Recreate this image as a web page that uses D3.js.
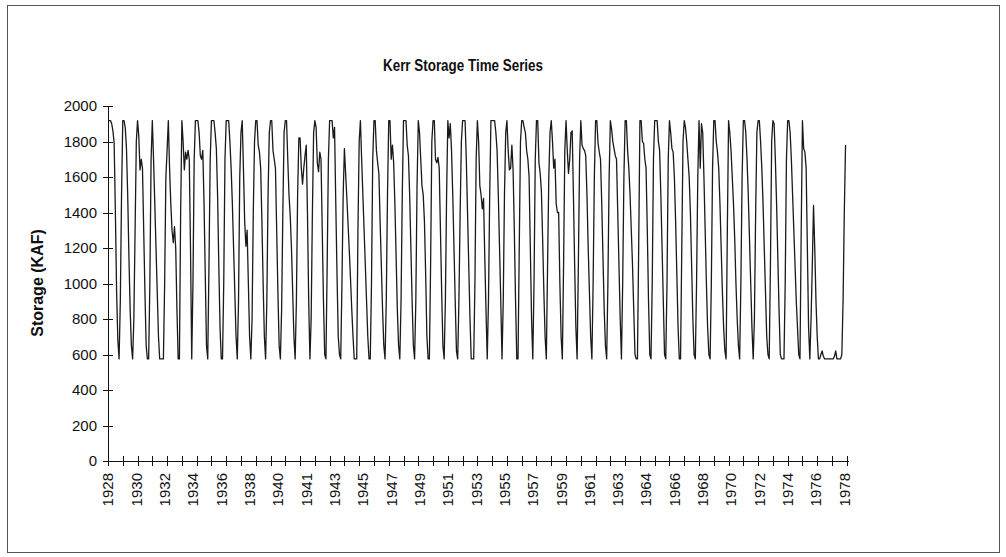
<!DOCTYPE html>
<html>
<head>
<meta charset="utf-8">
<title>Kerr Storage Time Series</title>
<style>
body { margin: 0; background: #fff; }
text { font-family: "Liberation Sans", Arial, sans-serif; fill: #111; }
.axis path, .axis line { stroke: #111; shape-rendering: crispEdges; }
</style>
</head>
<body>
<svg width="1006" height="557"></svg>
<script src="https://d3js.org/d3.v7.min.js"></script>
<script>
// monthly storage (KAF), one row per water year starting July
var storage = [
  1918,1918,1918,1900,1860,1790,1400,950,680,575,900,1500,     // 1928
  1918,1918,1880,1760,1500,1150,850,650,575,800,1300,1800,     // 1929
  1918,1830,1640,1700,1650,1300,950,650,575,575,1000,1700,     // 1930
  1918,1700,1450,1200,950,700,575,575,575,575,1000,1600,       // 1931
  1750,1918,1650,1450,1300,1230,1320,1200,850,575,575,1400,    // 1932
  1918,1800,1640,1740,1700,1750,1700,1200,575,1000,1700,1918,  // 1933
  1918,1918,1850,1720,1700,1750,1450,1050,650,575,1100,1700,   // 1934
  1918,1918,1918,1850,1760,1500,1100,750,575,575,1000,1700,    // 1935
  1918,1918,1918,1800,1650,1450,1200,950,700,575,900,1600,     // 1936
  1850,1918,1650,1350,1210,1300,1000,700,575,800,1400,1800,    // 1937
  1918,1918,1780,1740,1650,1350,1000,700,575,900,1500,1850,    // 1938
  1918,1918,1750,1700,1650,1300,950,650,575,850,1400,1850,     // 1939
  1918,1918,1700,1500,1380,1200,950,700,575,900,1500,1820,     // 1940
  1820,1650,1560,1650,1720,1780,1400,900,575,800,1400,1850,    // 1941
  1918,1880,1680,1630,1740,1700,1300,900,600,575,1100,1700,    // 1942
  1918,1918,1918,1820,1880,1450,1050,700,600,575,1000,1500,    // 1943
  1760,1620,1480,1330,1180,1020,850,700,575,575,575,1300,      // 1944
  1800,1918,1700,1500,1300,1100,900,700,575,575,1000,1700,     // 1945
  1918,1918,1750,1680,1620,1350,1100,850,650,575,900,1500,     // 1946
  1918,1918,1700,1780,1680,1450,1150,850,650,575,900,1500,     // 1947
  1918,1918,1918,1780,1720,1500,1200,900,650,575,900,1550,     // 1948
  1918,1850,1700,1550,1500,1350,1050,700,575,575,1100,1800,    // 1949
  1918,1918,1700,1680,1710,1650,1300,950,650,575,900,1500,     // 1950
  1918,1820,1900,1750,1500,1200,900,620,575,900,1400,1800,     // 1951
  1918,1918,1918,1700,1400,1100,800,575,575,575,1000,1700,     // 1952
  1918,1800,1550,1500,1420,1480,1150,850,575,900,1500,1918,    // 1953
  1918,1918,1918,1850,1750,1500,1200,900,575,900,1500,1850,    // 1954
  1918,1750,1640,1650,1780,1640,1300,900,575,575,1200,1800,    // 1955
  1918,1918,1880,1850,1750,1700,1600,1200,800,575,1000,1700,   // 1956
  1918,1918,1680,1620,1520,1250,950,700,575,1100,1600,1850,    // 1957
  1918,1800,1650,1700,1450,1400,1400,1000,700,575,1100,1750,   // 1958
  1918,1750,1620,1700,1850,1860,1500,1100,750,575,1100,1700,   // 1959
  1918,1780,1760,1750,1720,1500,1200,950,700,575,1000,1600,    // 1960
  1918,1918,1790,1740,1700,1450,1150,850,650,575,1000,1600,    // 1961
  1918,1870,1800,1760,1720,1700,1400,1100,800,575,1000,1600,   // 1962
  1918,1918,1750,1650,1500,1300,1100,850,600,575,575,1200,     // 1963
  1918,1918,1800,1790,1700,1650,1300,900,600,575,1000,1700,    // 1964
  1918,1918,1918,1800,1750,1500,1200,900,600,575,1000,1700,    // 1965
  1918,1850,1760,1740,1600,1350,1050,750,575,575,1200,1800,    // 1966
  1918,1880,1800,1700,1600,1400,1100,800,600,575,1000,1600,    // 1967
  1918,1650,1900,1850,1600,1300,1000,750,600,575,1000,1650,    // 1968
  1918,1918,1800,1740,1650,1450,1200,950,750,620,575,1300,     // 1969
  1918,1850,1750,1600,1450,1250,1000,800,650,575,1000,1600,    // 1970
  1918,1918,1850,1700,1500,1250,1000,750,575,800,1400,1850,    // 1971
  1918,1918,1800,1650,1450,1200,950,700,600,575,1100,1800,     // 1972
  1918,1900,1700,1450,1150,850,600,575,575,575,1000,1700,      // 1973
  1918,1918,1850,1700,1500,1300,1100,900,750,600,575,1300,     // 1974
  1918,1760,1740,1650,1200,750,575,800,1100,1440,1200,900,     // 1975
  700,575,575,600,620,590,575,575,575,575,575,575,             // 1976
  575,575,590,620,575,575,575,575,600,900,1400,1780            // 1977
];

var xLabels = ["1928","1930","1932","1934","1936","1938","1940","1941","1943",
  "1945","1947","1949","1951","1953","1955","1957","1959","1961","1963",
  "1964","1966","1968","1970","1972","1974","1976","1978"];
var labelEvery = 23;   // months between category labels
var tickEvery = 12;    // months between tick marks
var yTicks = [0,200,400,600,800,1000,1200,1400,1600,1800,2000];

var svg = d3.select("svg");

svg.append("rect")
  .attr("x", 7.5).attr("y", 5.5)
  .attr("width", 992).attr("height", 547)
  .attr("fill", "#fff")
  .attr("stroke", "#555");

var x = d3.scaleLinear()
  .domain([0, 601])
  .range([108, 848]);

var y = d3.scaleLinear()
  .domain([0, 2000])
  .range([461, 106]);

svg.append("text")
  .attr("x", 463).attr("y", 71)
  .attr("text-anchor", "middle")
  .attr("textLength", 160)
  .attr("lengthAdjust", "spacingAndGlyphs")
  .style("font-size", "16.5px")
  .style("font-weight", "bold")
  .text("Kerr Storage Time Series");

var gY = svg.append("g")
  .attr("class", "axis")
  .attr("transform", "translate(" + x(0) + ",0)")
  .call(d3.axisLeft(y)
    .tickValues(yTicks)
    .tickFormat(d3.format("d"))
    .tickSize(5)
    .tickSizeOuter(0)
    .tickPadding(6));

gY.selectAll(".tick line").attr("x1", 5);
gY.selectAll("text").style("font-size", "15px").attr("fill", "#111");

var gX = svg.append("g")
  .attr("class", "axis")
  .attr("transform", "translate(0," + y(0) + ")")
  .call(d3.axisBottom(x)
    .tickValues(d3.range(0, storage.length + 1, tickEvery))
    .tickFormat("")
    .tickSize(5)
    .tickSizeOuter(0));

gX.selectAll(".tick line").attr("y1", -5);

svg.append("g")
  .selectAll("text")
  .data(xLabels)
  .join("text")
  .attr("transform", (d, i) => "translate(" + x(i * labelEvery) + "," + (y(0) + 12) + ") rotate(-90)")
  .attr("text-anchor", "end")
  .attr("dy", "0.36em")
  .style("font-size", "15px")
  .text(d => d);

svg.append("text")
  .attr("transform", "translate(37,283) rotate(-90)")
  .attr("text-anchor", "middle")
  .attr("dy", "0.35em")
  .style("font-size", "16px")
  .style("font-weight", "bold")
  .text("Storage (KAF)");

var line = d3.line()
  .x((d, i) => x(i))
  .y(d => y(d));

svg.append("path")
  .datum(storage)
  .attr("fill", "none")
  .attr("stroke", "#1a1a1a")
  .attr("stroke-width", 1.3)
  .attr("stroke-linejoin", "round")
  .attr("d", line);
</script>
</body>
</html>
